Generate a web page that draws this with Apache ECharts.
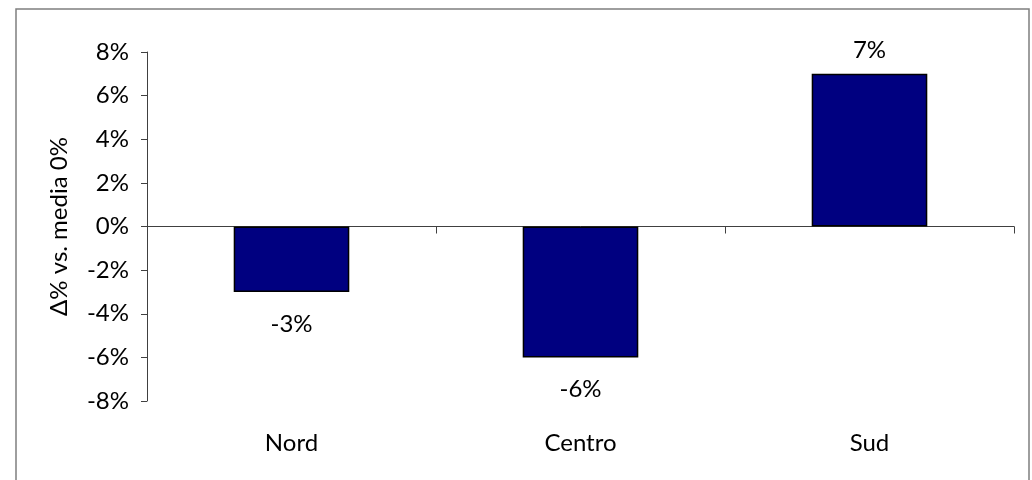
<!DOCTYPE html>
<html>
<head>
<meta charset="utf-8">
<style>
  html, body { margin: 0; padding: 0; background: #ffffff; }
  #chart { width: 1032px; height: 480px; }
</style>
<script src="https://cdn.jsdelivr.net/npm/echarts@6/dist/echarts.min.js"></script>
</head>
<body>
<div id="chart"></div>
<script>
// Regional deviation from the average, in percent
const categories = ['Nord', 'Centro', 'Sud'];
const deltaValues = [-3, -6, 7];
const yTicks = { min: -8, max: 8, step: 2 };
const yAxisTitle = 'Δ% vs. media 0%';

const FONT = 'Lato, "Open Sans", sans-serif';
const FONT_SIZE = 24;
const TEXT = '#000000';
const AXIS = '#404040';

const chart = echarts.init(document.getElementById('chart'), null, { renderer: 'canvas' });

chart.setOption({
  animation: false,
  backgroundColor: '#ffffff',
  textStyle: { fontFamily: FONT },
  graphic: [{
    type: 'rect',
    shape: { x: 16, y: 9, width: 1013, height: 490 },
    style: { fill: 'none', stroke: '#7f7f7f', lineWidth: 1.5 },
    silent: true
  }],
  grid: { left: 147, right: 18, top: 52, bottom: 79 },
  xAxis: [
    {
      type: 'category',
      data: categories,
      axisLine: { onZero: true, lineStyle: { color: AXIS, width: 1 } },
      axisTick: { show: true, length: 7, lineStyle: { color: AXIS } },
      axisLabel: { show: false },
      splitLine: { show: false }
    },
    {
      type: 'category',
      data: categories,
      position: 'bottom',
      axisLine: { show: false, onZero: false },
      axisTick: { show: false },
      axisLabel: { show: true, margin: 30, fontSize: FONT_SIZE, color: TEXT, fontFamily: FONT },
      splitLine: { show: false }
    }
  ],
  yAxis: {
    type: 'value',
    min: yTicks.min,
    max: yTicks.max,
    interval: yTicks.step,
    name: yAxisTitle,
    nameLocation: 'middle',
    nameRotate: 90,
    nameGap: 76,
    nameTextStyle: { fontSize: FONT_SIZE, color: TEXT, fontFamily: FONT },
    axisLine: { show: true, lineStyle: { color: AXIS, width: 1 } },
    axisTick: { show: true, inside: false, length: 6, lineStyle: { color: AXIS } },
    axisLabel: { formatter: '{value}%', fontSize: FONT_SIZE, color: TEXT, margin: 18, fontFamily: FONT },
    splitLine: { show: false }
  },
  series: [{
    type: 'bar',
    xAxisIndex: 0,
    barWidth: '40%',
    data: deltaValues.map(v => ({
      value: v,
      label: v < 0 ? { position: 'bottom', distance: 20 } : { position: 'top', distance: 12 }
    })),
    itemStyle: { color: '#000080', borderColor: '#000000', borderWidth: 1.5 },
    label: {
      show: true,
      formatter: p => p.value + '%',
      fontSize: FONT_SIZE,
      color: TEXT,
      fontFamily: FONT
    }
  }]
});
</script>
</body>
</html>
